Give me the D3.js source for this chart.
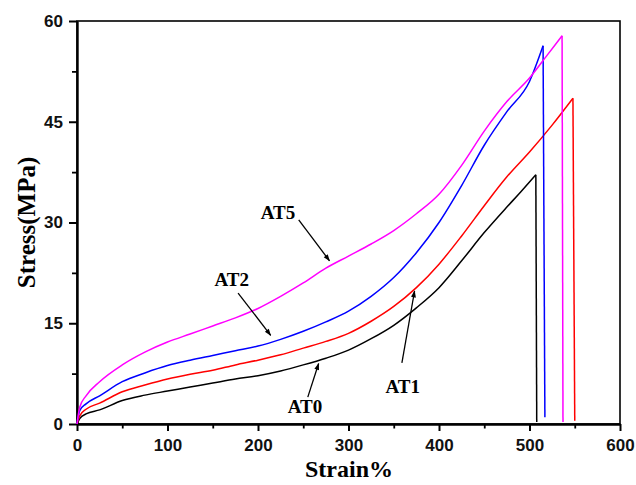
<!DOCTYPE html>
<html>
<head>
<meta charset="utf-8">
<script src="https://cdn.jsdelivr.net/npm/d3@7"></script>
<style>
  body { margin: 0; background: #fff; }
  svg { display: block; }
</style>
</head>
<body>
<div id="chart"></div>
<script>
// Stress-strain curves: [strain %, stress MPa]
// last point of each series is the fracture drop
const at0 = [[0,0],[3,0.8],[10,1.5],[25,2.1],[50,3.5],[75,4.3],[100,4.9],[125,5.5],[150,6.1],[175,6.7],[200,7.2],[225,7.9],[250,8.8],[275,9.8],[300,11.0],[325,12.7],[350,14.7],[375,17.3],[400,20.3],[425,24.3],[450,28.5],[475,32.3],[490,34.5],[507,37.1],[508,0.3]];
const at1 = [[0,0],[3,1.2],[10,2.2],[25,3.1],[50,4.8],[75,5.8],[100,6.7],[125,7.4],[150,8.0],[175,8.8],[200,9.5],[225,10.3],[250,11.3],[275,12.3],[300,13.5],[325,15.3],[350,17.5],[375,20.3],[400,23.8],[425,28.0],[450,32.5],[475,36.8],[500,40.5],[525,44.5],[548,48.5],[550,0.5]];
const at2 = [[0,0],[3,2.0],[10,3.0],[25,4.2],[50,6.3],[75,7.6],[100,8.7],[125,9.5],[150,10.2],[175,10.9],[200,11.6],[225,12.6],[250,13.8],[275,15.2],[300,16.8],[325,19.0],[350,21.8],[375,25.5],[400,30.0],[425,35.5],[450,41.5],[475,46.5],[500,51.0],[515,56.3],[517,1.0]];
const at5 = [[0,0],[3,2.5],[10,4.2],[25,6.3],[50,8.8],[75,10.7],[100,12.2],[125,13.4],[150,14.6],[175,15.8],[200,17.2],[225,19.0],[250,21.0],[275,23.2],[300,25.0],[325,26.8],[350,28.8],[375,31.3],[400,34.2],[425,38.5],[450,43.6],[475,48.0],[500,51.5],[520,55.0],[536,57.8],[537,0.3]];

const seriesNames = ['AT0', 'AT1', 'AT2', 'AT5'];
const seriesData = [at0, at1, at2, at5];
const seriesColors = ['#000000', '#ff0000', '#0000ff', '#ff00ff'];

const xTicks = [0, 100, 200, 300, 400, 500, 600];
const yTicks = [0, 15, 30, 45, 60];

// label anchor and arrow (from -> to), in data units
const labelNames = ['AT5', 'AT2', 'AT0', 'AT1'];
const labelAt = [[222, 30.5], [171, 20.5], [252, 1.6], [360, 4.6]];
const arrowFrom = [[245, 30.4], [178, 19.5], [255, 4.0], [359, 9.1]];
const arrowTo = [[279, 24.3], [214, 13.2], [267, 9.0], [373, 19.8]];

const width = 636, height = 485;
const margin = { top: 21, right: 16, bottom: 61, left: 77 };
const plotW = width - margin.left - margin.right;
const plotH = height - margin.top - margin.bottom;

const svg = d3.select('#chart').append('svg')
    .attr('width', width)
    .attr('height', height);

const g = svg.append('g')
    .attr('transform', `translate(${margin.left},${margin.top})`);

const x = d3.scaleLinear().domain([0, 600]).range([0, plotW]);
const y = d3.scaleLinear().domain([0, 60]).range([plotH, 0]);

// frame (top and right)
g.append('rect')
    .attr('x', 0).attr('y', 0)
    .attr('width', plotW).attr('height', plotH)
    .attr('fill', 'none')
    .attr('stroke', '#000')
    .attr('stroke-width', 1.6);

// minor ticks
const xMinor = d3.range(50, 600, 100);
const yMinor = d3.range(7.5, 60, 15);
g.append('g')
    .attr('transform', `translate(0,${plotH})`)
    .call(d3.axisBottom(x).tickValues(xMinor).tickSize(4.5).tickFormat(''))
    .call(a => a.select('.domain').remove())
    .selectAll('line').attr('stroke-width', 1.8);
g.append('g')
    .call(d3.axisLeft(y).tickValues(yMinor).tickSize(5).tickFormat(''))
    .call(a => a.select('.domain').remove())
    .selectAll('line').attr('stroke-width', 1.8);

// major axes
const xAxis = g.append('g')
    .attr('transform', `translate(0,${plotH})`)
    .call(d3.axisBottom(x).tickValues(xTicks).tickSize(7).tickSizeOuter(0).tickPadding(8));
const yAxis = g.append('g')
    .call(d3.axisLeft(y).tickValues(yTicks).tickSize(8).tickSizeOuter(0).tickPadding(6));

[xAxis, yAxis].forEach(a => {
    a.select('.domain').attr('stroke-width', 2.4);
    a.selectAll('.tick line').attr('stroke-width', 2);
    a.selectAll('.tick text')
        .style('font-family', '"Liberation Sans", Arial, sans-serif')
        .style('font-weight', 'bold')
        .style('font-size', '17px')
        .attr('fill', '#111');
});

// axis titles
svg.append('text')
    .attr('text-anchor', 'middle')
    .attr('x', 349)
    .attr('y', 477)
    .style('font-family', '"Liberation Serif", "Times New Roman", serif')
    .style('font-weight', 'bold')
    .style('font-size', '24px')
    .text('Strain%');

svg.append('text')
    .attr('text-anchor', 'middle')
    .attr('transform', `translate(35,${margin.top + plotH / 2}) rotate(-90)`)
    .style('font-family', '"Liberation Serif", "Times New Roman", serif')
    .style('font-weight', 'bold')
    .style('font-size', '25px')
    .text('Stress(MPa)');

// curves: smooth rise, straight fracture drop
const rise = d3.line()
    .x(d => x(d[0]))
    .y(d => y(d[1]))
    .curve(d3.curveMonotoneX);
const drop = d3.line()
    .x(d => x(d[0]))
    .y(d => y(d[1]));

seriesData.forEach((data, i) => {
    const n = data.length;
    g.append('path')
        .datum(data.slice(0, n - 1))
        .attr('class', 'curve-' + seriesNames[i])
        .attr('fill', 'none')
        .attr('stroke', seriesColors[i])
        .attr('stroke-width', 1.5)
        .attr('stroke-linejoin', 'round')
        .attr('d', rise);
    g.append('path')
        .datum(data.slice(n - 2))
        .attr('fill', 'none')
        .attr('stroke', seriesColors[i])
        .attr('stroke-width', 1.5)
        .attr('d', drop);
});

// arrowhead
svg.append('defs').append('marker')
    .attr('id', 'arrow')
    .attr('viewBox', '0 0 10 10')
    .attr('refX', 9).attr('refY', 5)
    .attr('markerWidth', 8).attr('markerHeight', 7)
    .attr('markerUnits', 'userSpaceOnUse')
    .attr('orient', 'auto')
    .append('path')
    .attr('d', 'M0,1.5 L10,5 L0,8.5 Z')
    .attr('fill', '#000');

// annotations
labelNames.forEach((name, i) => {
    g.append('line')
        .attr('x1', x(arrowFrom[i][0])).attr('y1', y(arrowFrom[i][1]))
        .attr('x2', x(arrowTo[i][0])).attr('y2', y(arrowTo[i][1]))
        .attr('stroke', '#000')
        .attr('stroke-width', 1.3)
        .attr('marker-end', 'url(#arrow)');
    g.append('text')
        .attr('text-anchor', 'middle')
        .attr('x', x(labelAt[i][0]))
        .attr('y', y(labelAt[i][1]))
        .style('font-family', '"Liberation Serif", "Times New Roman", serif')
        .style('font-weight', 'bold')
        .style('font-size', '19px')
        .text(name);
});
</script>
</body>
</html>
